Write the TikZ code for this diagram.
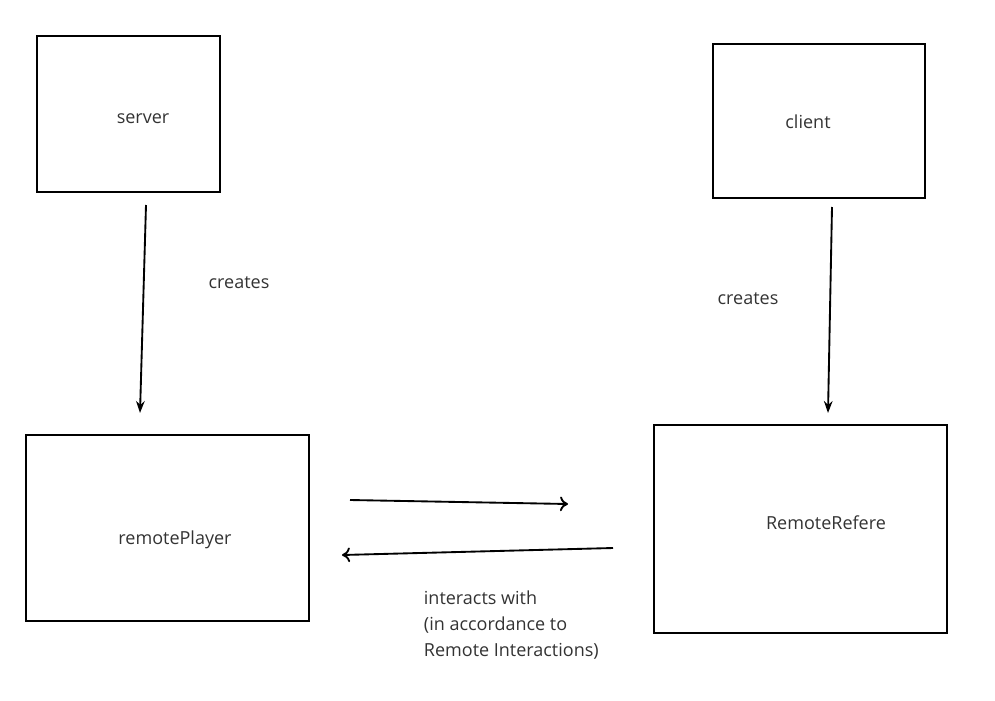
\documentclass[tikz,border=0pt]{standalone}
\usepackage{fontspec}
\setmainfont{Open Sans}
\usetikzlibrary{arrows.meta,positioning}

\begin{document}
\begin{tikzpicture}[x=0.75pt, y=-0.75pt, line width=1.4pt,
  every node/.style={font=\fontsize{13.5}{19.5}\selectfont, text=black!80},
  box/.style={draw, inner sep=0pt, anchor=north west},
  make/.style={-{Stealth[length=9pt,width=6.5pt]}},
  talk/.style={-{To[length=6pt,width=11pt]}}]
\useasboundingbox (0,0) rectangle (995,700);

% boxes
\node[box, minimum width=183*0.75pt, minimum height=156*0.75pt] (server) at (36,35) {};
\node[box, minimum width=212*0.75pt, minimum height=154*0.75pt] (client) at (712,43) {};
\node[box, minimum width=283*0.75pt, minimum height=186*0.75pt] (player) at (25,434) {};
\node[box, minimum width=293*0.75pt, minimum height=208*0.75pt] (referee) at (653,424) {};

\node (serverlbl) at (143,119) {server};
\node (clientlbl) at (808,122) {client};
\node (playerlbl) at (175,540) {remotePlayer};
\node (refereelbl) at (826,523) {RemoteRefere};

% arrow ends
\coordinate (s1) at (146,205);
\coordinate (s2) at (140,413);
\coordinate (c1) at (832,207);
\coordinate (c2) at (828,413);
\coordinate (p1) at (350,500);
\coordinate (p2) at (568,504);
\coordinate (r1) at (613,548);
\coordinate (r2) at (342,555);

\draw[make] (s1) -- (s2);
\draw[make] (c1) -- (c2);
\draw[talk] (p1) -- (p2);
\draw[talk] (r1) -- (r2);

\node (createsl) at (239,283) {creates};
\node (createsr) at (748,299) {creates};
\node[align=left, anchor=north west, inner sep=0pt] (interact) at (423,590)
  {interacts with\\(in accordance to\\Remote Interactions)};
\end{tikzpicture}
\end{document}
